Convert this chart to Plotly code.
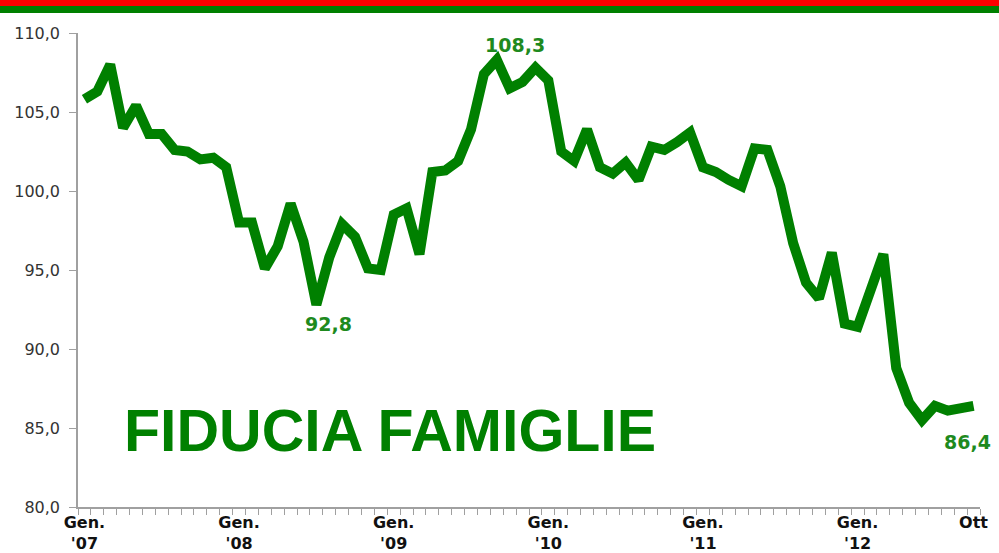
import plotly.graph_objects as go

values = [105.8, 106.3, 108.0, 104.0, 105.4, 103.6, 103.6, 102.6, 102.5, 102.0,
          102.1, 101.5, 98.0, 98.0, 95.1, 96.5, 99.2, 96.8, 92.8, 95.8,
          97.9, 97.1, 95.1, 95.0, 98.5, 98.9, 96.0, 101.2, 101.3, 101.9,
          103.9, 107.4, 108.3, 106.5, 106.9, 107.8, 107.0, 102.5, 101.9, 103.9,
          101.5, 101.1, 101.8, 100.7, 102.8, 102.6, 103.1, 103.7, 101.5, 101.2,
          100.7, 100.3, 102.7, 102.6, 100.3, 96.7, 94.2, 93.2, 96.1, 91.6,
          91.4, 93.7, 96.0, 88.8, 86.6, 85.5, 86.4, 86.1, 86.2, 86.4]
months = list(range(len(values)))
tick_positions = [0, 12, 24, 36, 48, 60, 69]
tick_labels = ["Gen.<br>'07", "Gen.<br>'08", "Gen.<br>'09", "Gen.<br>'10",
               "Gen.<br>'11", "Gen.<br>'12", "Ott"]
title_text = "FIDUCIA FAMIGLIE"
callouts = [(33.4, 109.25, "108,3"), (18.96, 91.6, "92,8"), (68.5, 84.1, "86,4")]

GREEN = "#008000"

fig = go.Figure()
fig.add_trace(go.Scatter(x=months, y=values, mode="lines",
                         line=dict(color=GREEN, width=10), hoverinfo="skip"))

for x, y, t in callouts:
    fig.add_annotation(x=x, y=y, text="<b>" + t + "</b>", showarrow=False,
                       font=dict(family="DejaVu Sans", size=19, color="#1E8A1E"))

fig.add_annotation(x=23.7, y=84.8, text="<b>" + title_text + "</b>", showarrow=False,
                   font=dict(family="Liberation Sans, Arial", size=59, color=GREEN))

# top stripes
fig.add_shape(type="rect", xref="paper", yref="paper", x0=-0.1, x1=1.1,
              y0=1.0570, y1=1.075, fillcolor="#FF0000", line_width=0, layer="above")
fig.add_shape(type="rect", xref="paper", yref="paper", x0=-0.1, x1=1.1,
              y0=1.0422, y1=1.0570, fillcolor=GREEN, line_width=0, layer="above")

fig.update_layout(
    width=999, height=553,
    margin=dict(l=78, r=19, t=33, b=46, autoexpand=False),
    paper_bgcolor="white", plot_bgcolor="white",
    showlegend=False,
    separators=",.",
    font=dict(family="DejaVu Sans"),
)
fig.update_xaxes(
    range=[-0.5, 69.5], showgrid=False, zeroline=False,
    showline=True, linecolor="#A0A0A0", linewidth=1.5,
    tickmode="array", tickvals=tick_positions, ticktext=["<b>" + t + "</b>" for t in tick_labels],
    ticks="outside", ticklen=0,
    tickfont=dict(family="DejaVu Sans", size=16, color="#111111"),
    minor=dict(ticks="outside", tick0=-0.5, dtick=1, ticklen=6, tickcolor="#A0A0A0", tickwidth=1),
)
fig.update_yaxes(
    range=[80, 110], dtick=5, tickformat=".1f", showgrid=False, zeroline=False,
    showline=True, linecolor="#A0A0A0", linewidth=1.5,
    ticks="outside", ticklen=7, tickcolor="#A0A0A0",
    ticklabelstandoff=6,
    tickfont=dict(family="DejaVu Sans", size=16, color="#333333"),
)

fig.write_html("out.html", config={"displayModeBar": False},
               post_script="document.body.style.margin='0';")
